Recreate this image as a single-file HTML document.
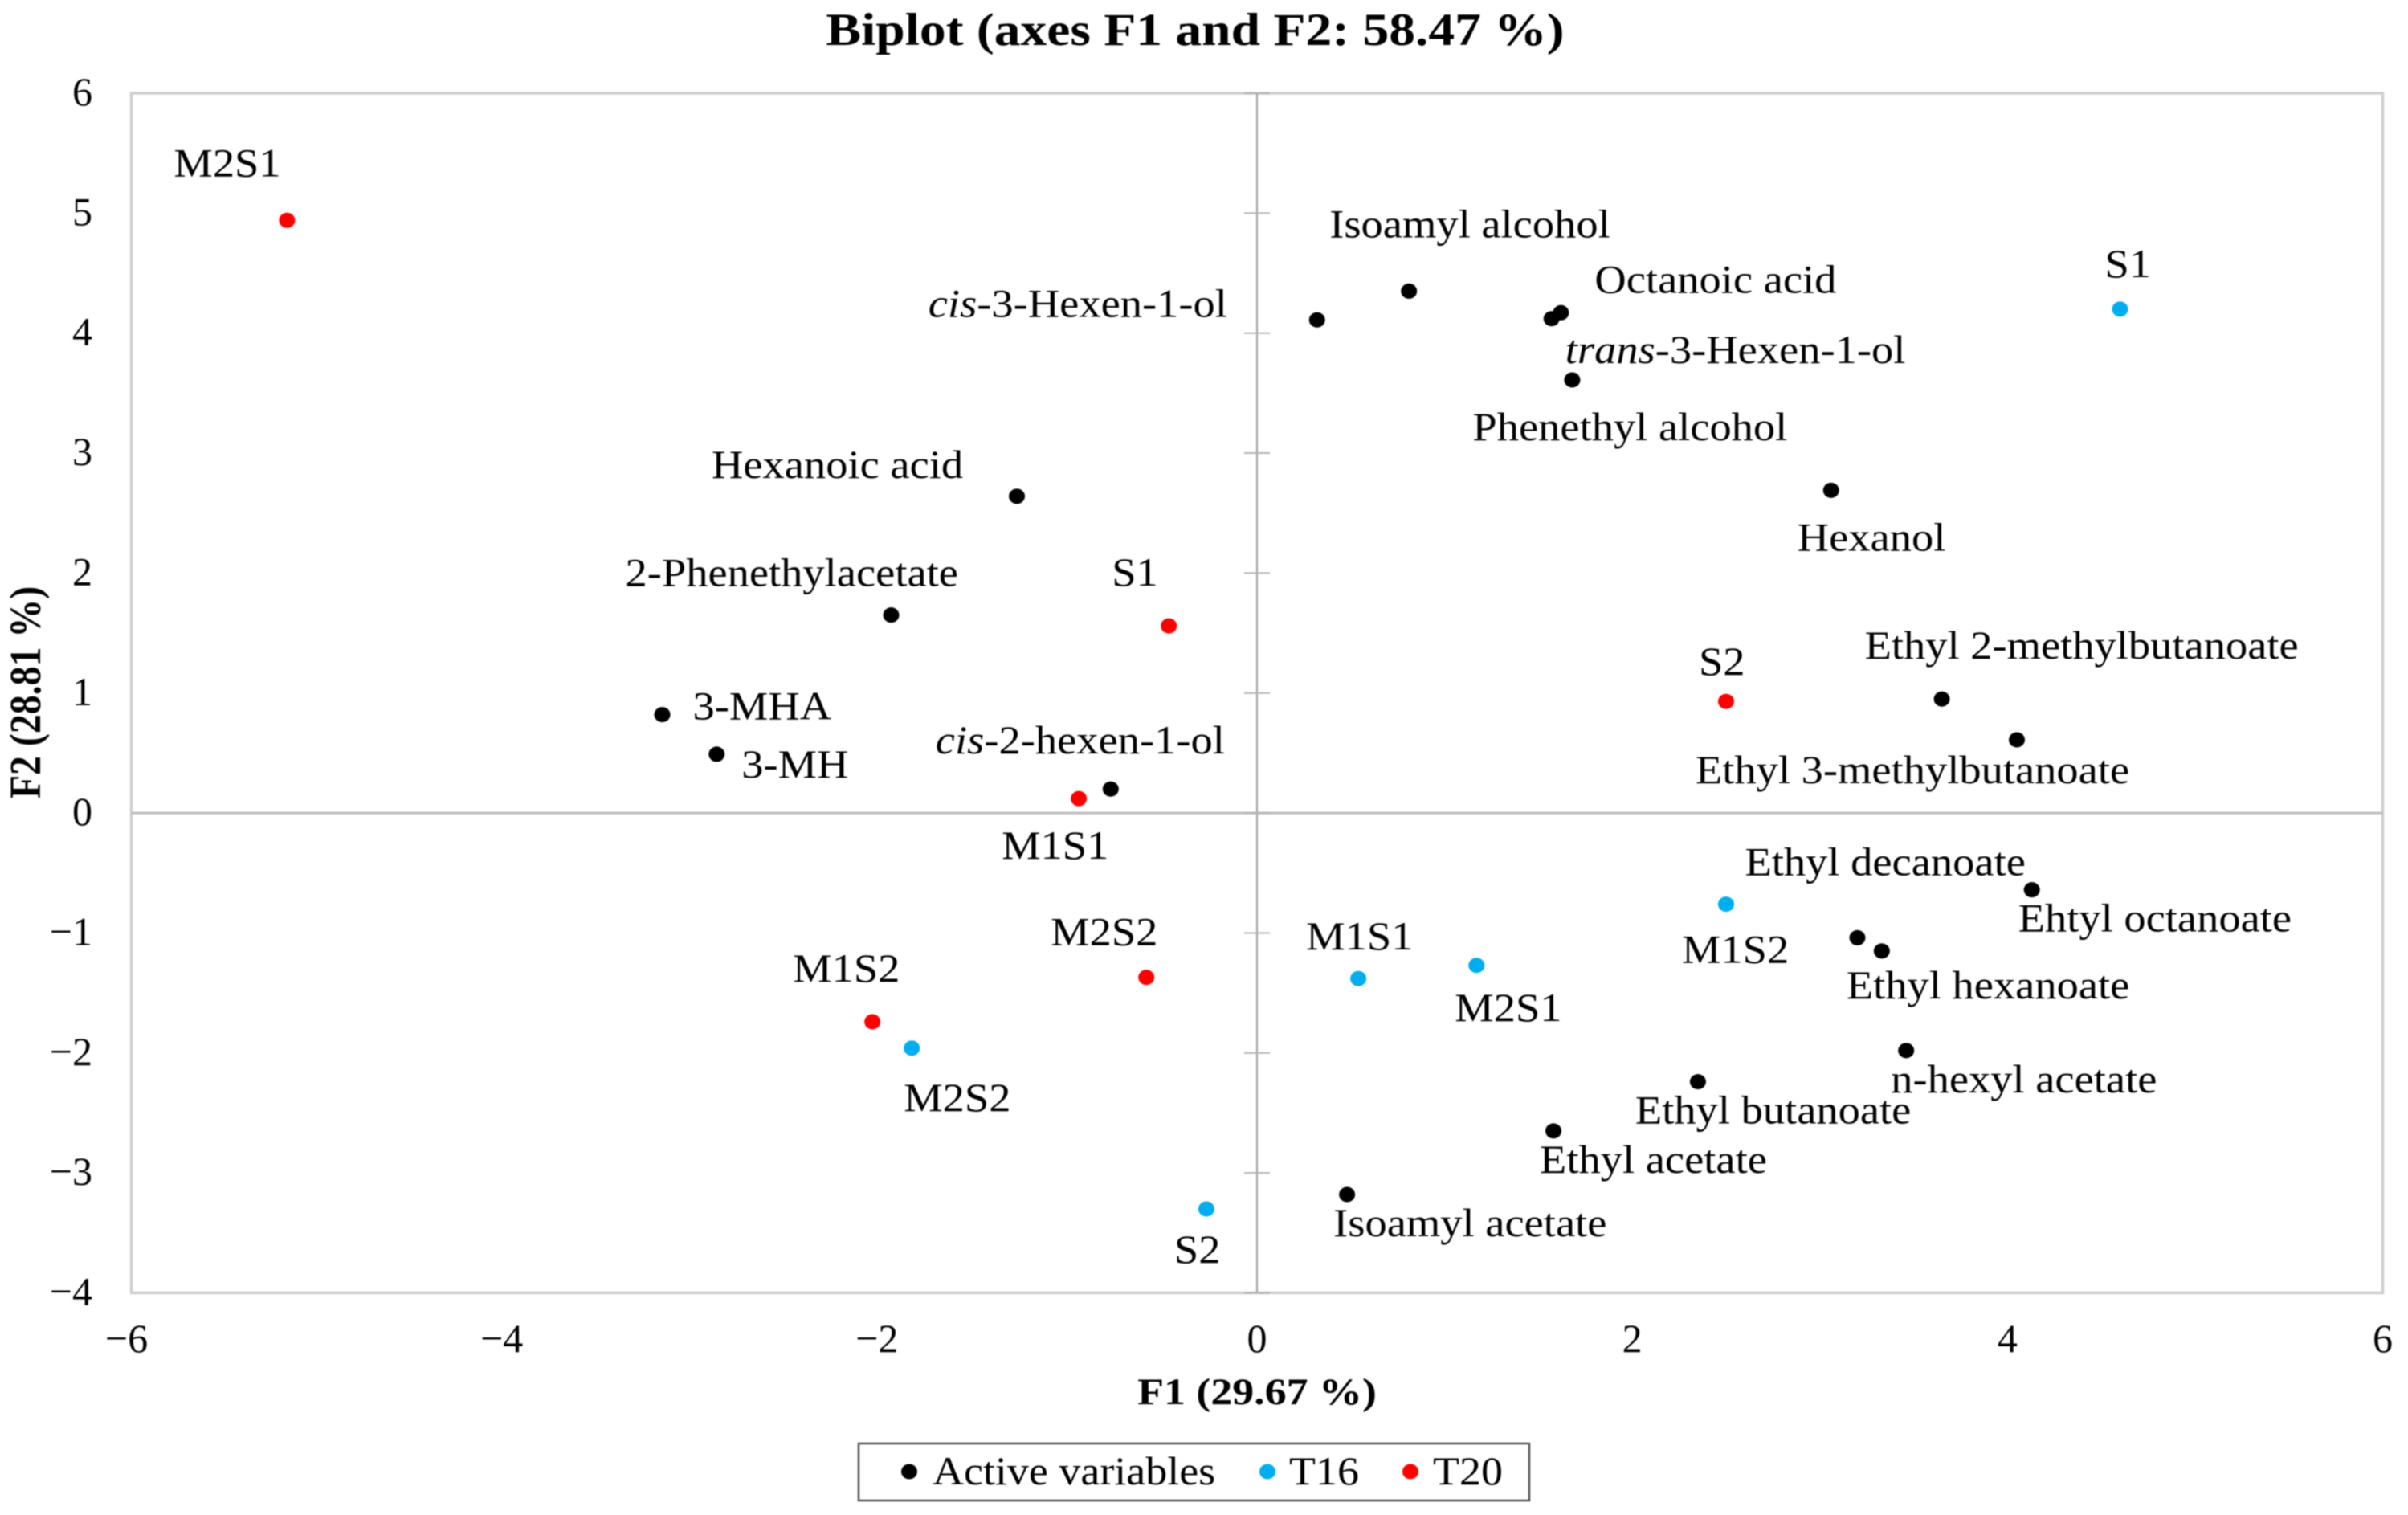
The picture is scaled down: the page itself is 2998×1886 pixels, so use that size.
<!DOCTYPE html>
<html lang="en">
<head>
<meta charset="utf-8">
<title>Biplot (axes F1 and F2: 58.47 %)</title>
<style>
html,body{margin:0;padding:0;background:#fff;width:2998px;height:1886px;overflow:hidden}
svg{display:block;filter:blur(0.8px)}
text{font-family:"Liberation Serif","Times New Roman",serif;fill:#000}
.lbl{font-size:50px}
.tick{font-size:50px}
.ttl{font-weight:bold}
</style>
</head>
<body>
<svg id="chart" xmlns="http://www.w3.org/2000/svg" width="2998" height="1886" viewBox="0 0 2998 1886">
  <rect x="0" y="0" width="2998" height="1886" fill="#fff"/>
  <text class="ttl" transform="translate(1488 56) scale(1.15 1)" x="0" y="0" font-size="57" text-anchor="middle">Biplot (axes F1 and F2: 58.47 %)</text>
  <rect x="163.5" y="116" width="2803" height="1493.5" fill="none" stroke="#cfcfcf" stroke-width="3.5"/>
  <g id="axes"></g>
  <g id="marks"></g>
  <text class="ttl" transform="translate(1565 1748) scale(1.147 1)" x="0" y="0" font-size="47" text-anchor="middle">F1 (29.67 %)</text>
  <text class="ttl" transform="translate(50 862) rotate(-90) scale(0.87 1)" x="0" y="0" font-size="55" text-anchor="middle">F2 (28.81 %)</text>
  <g>
    <rect x="1069" y="1797" width="835" height="71" fill="#fff" stroke="#555" stroke-width="2.5"/>
    <ellipse cx="1132" cy="1832" rx="10" ry="9.5" fill="#000"/>
    <text class="lbl" transform="translate(1161 1848) scale(1.08 1)" x="0" y="0">Active variables</text>
    <ellipse cx="1578" cy="1832" rx="10" ry="9.5" fill="#00aeef"/>
    <text class="lbl" transform="translate(1605 1848) scale(1.08 1)" x="0" y="0">T16</text>
    <ellipse cx="1756" cy="1832" rx="10" ry="9.5" fill="#ff0000"/>
    <text class="lbl" transform="translate(1784 1848) scale(1.08 1)" x="0" y="0">T20</text>
  </g>
</svg>
<script>
// Axis ticks
const xTicks = [-6, -4, -2, 0, 2, 4, 6];
const yTicks = [-4, -3, -2, -1, 0, 1, 2, 3, 4, 5, 6];

// Active variables
const activeNames = ["Isoamyl alcohol", "Octanoic acid", "trans-3-Hexen-1-ol", "cis-3-Hexen-1-ol", "Phenethyl alcohol", "Hexanol", "Hexanoic acid", "2-Phenethylacetate", "3-MHA", "3-MH", "cis-2-hexen-1-ol", "Ethyl 2-methylbutanoate", "Ethyl 3-methylbutanoate", "Ehtyl octanoate", "Ethyl decanoate", "Ethyl hexanoate", "n-hexyl acetate", "Ethyl butanoate", "Ethyl acetate", "Isoamyl acetate"];
const activeF1 = [0.81, 1.62, 1.57, 0.32, 1.68, 3.06, -1.28, -1.95, -3.17, -2.88, -0.78, 3.65, 4.05, 4.13, 3.20, 3.33, 3.46, 2.35, 1.58, 0.48];
const activeF2 = [4.35, 4.17, 4.12, 4.11, 3.61, 2.69, 2.64, 1.65, 0.82, 0.49, 0.20, 0.95, 0.61, -0.64, -1.04, -1.15, -1.98, -2.24, -2.65, -3.18];

// T16 observations
const t16Names = ["S1", "M1S2", "M2S1", "M1S1", "M2S2", "S2"];
const t16F1 = [4.60, 2.50, 1.17, 0.54, -1.84, -0.27];
const t16F2 = [4.20, -0.76, -1.27, -1.38, -1.96, -3.30];

// T20 observations
const t20Names = ["M2S1", "S1", "S2", "M1S1", "M2S2", "M1S2"];
const t20F1 = [-5.17, -0.47, 2.50, -0.95, -0.59, -2.05];
const t20F2 = [4.94, 1.56, 0.93, 0.12, -1.37, -1.74];

// Label placement relative to each point (layout only, not data)
const activeLabelOffset = [[-99,-67],[42,-25],[17,55],[-484,-4],[-124,75],[-42,75],[-380,-23],[-331,-36],[38,6],[31,29],[-218,-44],[-96,-50],[-400,54],[-17,52],[-140,-78],[-44,59],[-19,52],[-78,52],[-17,52],[-17,52]];
const t16LabelOffset = [[-19,-40],[-55,73],[-27,69],[-65,-36],[-10,78],[-40,67]];
const t20LabelOffset = [[-141,-55],[-71,-50],[-34,-33],[-96,75],[-119,-40],[-99,-50]];

const NS = "http://www.w3.org/2000/svg";
const plot = { left: 163.5, right: 2966.5, top: 116, bottom: 1609.5 };
const xMin = -6, xMax = 6, yMin = -4, yMax = 6;
function xScale(v) { return plot.left + (v - xMin) / (xMax - xMin) * (plot.right - plot.left); }
function yScale(v) { return plot.bottom - (v - yMin) / (yMax - yMin) * (plot.bottom - plot.top); }
function fmt(v) { return v < 0 ? "\u2212" + Math.abs(v) : String(v); }

const axes = document.getElementById("axes");
const marks = document.getElementById("marks");

function line(x1, y1, x2, y2, stroke, w) {
  const el = document.createElementNS(NS, "line");
  el.setAttribute("x1", x1);
  el.setAttribute("y1", y1);
  el.setAttribute("x2", x2);
  el.setAttribute("y2", y2);
  el.setAttribute("stroke", stroke);
  el.setAttribute("stroke-width", w);
  axes.appendChild(el);
  return el;
}

const zeroX = line(xScale(0), plot.top, xScale(0), plot.bottom, "#a0a0a0", 2);


const zeroY = line(plot.left, yScale(0), plot.right, yScale(0), "#bdbdbd", 3);



yTicks.forEach(function (t) {
  const tk = line(xScale(0) - 16, yScale(t), xScale(0) + 16, yScale(t), "#b4b4b4", 2);
  
  
  const el = document.createElementNS(NS, "text");
  el.setAttribute("class", "tick");
  el.setAttribute("x", 115);
  el.setAttribute("y", yScale(t) + 15);
  el.setAttribute("text-anchor", "end");
  el.textContent = fmt(t);
  
  
  axes.appendChild(el);
});

xTicks.forEach(function (t) {
  const el = document.createElementNS(NS, "text");
  el.setAttribute("class", "tick");
  el.setAttribute("x", xScale(t) - (t < 0 ? 6 : 0));
  el.setAttribute("y", 1683);
  el.setAttribute("text-anchor", "middle");
  el.textContent = fmt(t);
  
  
  axes.appendChild(el);
});

function drawSeries(series, names, f1, f2, offsets, color) {
  names.forEach(function (name, i) {
    const cx = xScale(f1[i]);
    const cy = yScale(f2[i]);
    const dot = document.createElementNS(NS, "ellipse");
    dot.setAttribute("cx", cx);
    dot.setAttribute("cy", cy);
    dot.setAttribute("rx", 10);
    dot.setAttribute("ry", 9.5);
    dot.setAttribute("fill", color);
    
    
    marks.appendChild(dot);

    const label = document.createElementNS(NS, "text");
    label.setAttribute("class", "lbl");
    label.setAttribute("x", 0);
    label.setAttribute("y", 0);
    label.setAttribute("transform", "translate(" + (cx + offsets[i][0]) + " " + (cy + offsets[i][1]) + ") scale(1.09 1)");
    const m = name.match(/^(cis|trans)(-.*)$/);
    if (m) {
      const it = document.createElementNS(NS, "tspan");
      it.setAttribute("font-style", "italic");
      it.textContent = m[1];
      label.appendChild(it);
      label.appendChild(document.createTextNode(m[2]));
    } else {
      label.textContent = name;
    }
    
    
    marks.appendChild(label);
  });
}

drawSeries("active-variable", activeNames, activeF1, activeF2, activeLabelOffset, "#000000");
drawSeries("t16", t16Names, t16F1, t16F2, t16LabelOffset, "#00aeef");
drawSeries("t20", t20Names, t20F1, t20F2, t20LabelOffset, "#ff0000");
</script>
</body>
</html>
